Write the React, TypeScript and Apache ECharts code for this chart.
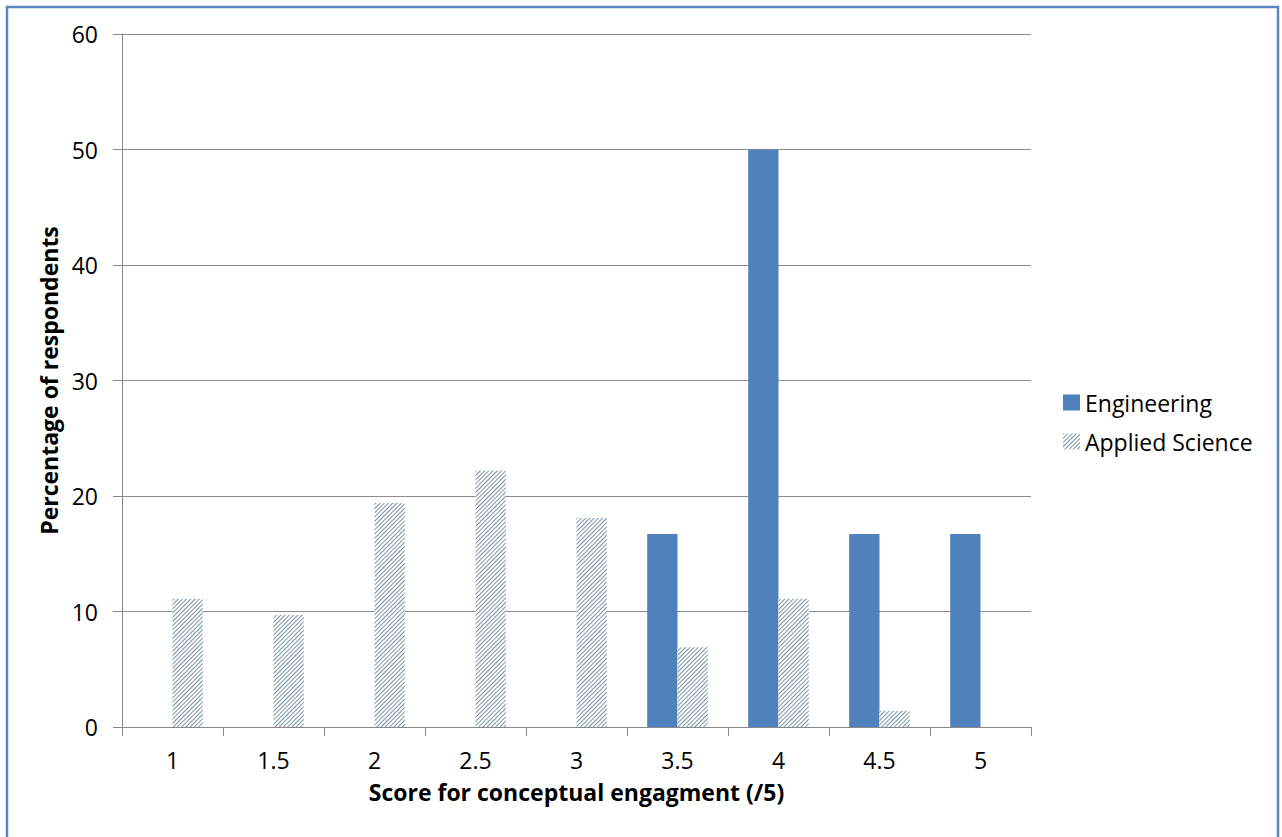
import React, { useEffect, useRef } from "react";
import * as echarts from "echarts";

const categories = ["1", "1.5", "2", "2.5", "3", "3.5", "4", "4.5", "5"];
const engineering = [0, 0, 0, 0, 0, 16.7, 50, 16.7, 16.7];
const appliedScience = [11.1, 9.7, 19.4, 22.2, 18.1, 6.9, 11.1, 1.4, 0];
const yTicks = { min: 0, max: 60, interval: 10 };

const FONT = "'Open Sans', 'Noto Sans', sans-serif";

export default function App() {
  const ref = useRef<HTMLDivElement>(null);
  useEffect(() => {
    document.body.style.margin = "0";
    const chart = echarts.init(ref.current!, null, { renderer: "svg" });
    chart.setOption({
      animation: false,
      backgroundColor: "#ffffff",
      textStyle: { fontFamily: FONT },
      graphic: [
        {
          type: "rect",
          shape: { x: 7, y: 7, width: 1271, height: 845 },
          style: { fill: "none", stroke: "#5a87c2", lineWidth: 2.5 },
          silent: true,
          z: 100,
        },
      ],
      grid: { left: 122, right: 251, top: 34, bottom: 110, containLabel: false },
      legend: {
        orient: "vertical",
        left: 1058,
        top: 386,
        itemWidth: 17,
        itemHeight: 16,
        itemGap: 16,
        icon: "rect",
        textStyle: { fontSize: 23, color: "#000", fontFamily: FONT },
        data: ["Engineering", "Applied Science"],
      },
      xAxis: {
        type: "category",
        data: categories,
        name: "Score for conceptual engagment (/5)",
        nameLocation: "middle",
        nameGap: 53,
        nameTextStyle: { fontSize: 23, fontWeight: "bold", color: "#000", fontFamily: FONT },
        axisLine: { lineStyle: { color: "#888888", width: 1 } },
        axisTick: { show: true, length: 9, lineStyle: { color: "#888888" } },
        axisLabel: { fontSize: 23, color: "#000", margin: 21, fontFamily: FONT },
      },
      yAxis: {
        type: "value",
        min: yTicks.min,
        max: yTicks.max,
        interval: yTicks.interval,
        name: "Percentage of respondents",
        nameLocation: "middle",
        nameGap: 60,
        nameTextStyle: { fontSize: 23, fontWeight: "bold", color: "#000", fontFamily: FONT },
        axisLine: { show: true, lineStyle: { color: "#888888", width: 1 } },
        axisTick: { show: true, length: 9, lineStyle: { color: "#888888" } },
        axisLabel: { fontSize: 23, color: "#000", margin: 24, fontFamily: FONT },
        splitLine: { lineStyle: { color: "#8c8c8c", width: 1 } },
      },
      series: [
        {
          name: "Engineering",
          type: "bar",
          data: engineering,
          barGap: "0%",
          barCategoryGap: "40%",
          itemStyle: { color: "#4f81bd" },
        },
        {
          name: "Applied Science",
          type: "bar",
          data: appliedScience,
          barGap: "0%",
          barCategoryGap: "40%",
          itemStyle: {
            color: "#ffffff",
            decal: {
              symbol: "rect",
              symbolSize: 1,
              color: "#7893a4",
              dashArrayX: [1, 0],
              dashArrayY: [1, 2],
              rotation: -Math.PI / 4,
            },
          },
        },
      ],
    });
    return () => chart.dispose();
  }, []);
  return <div ref={ref} style={{ width: 1282, height: 837 }} />;
}
